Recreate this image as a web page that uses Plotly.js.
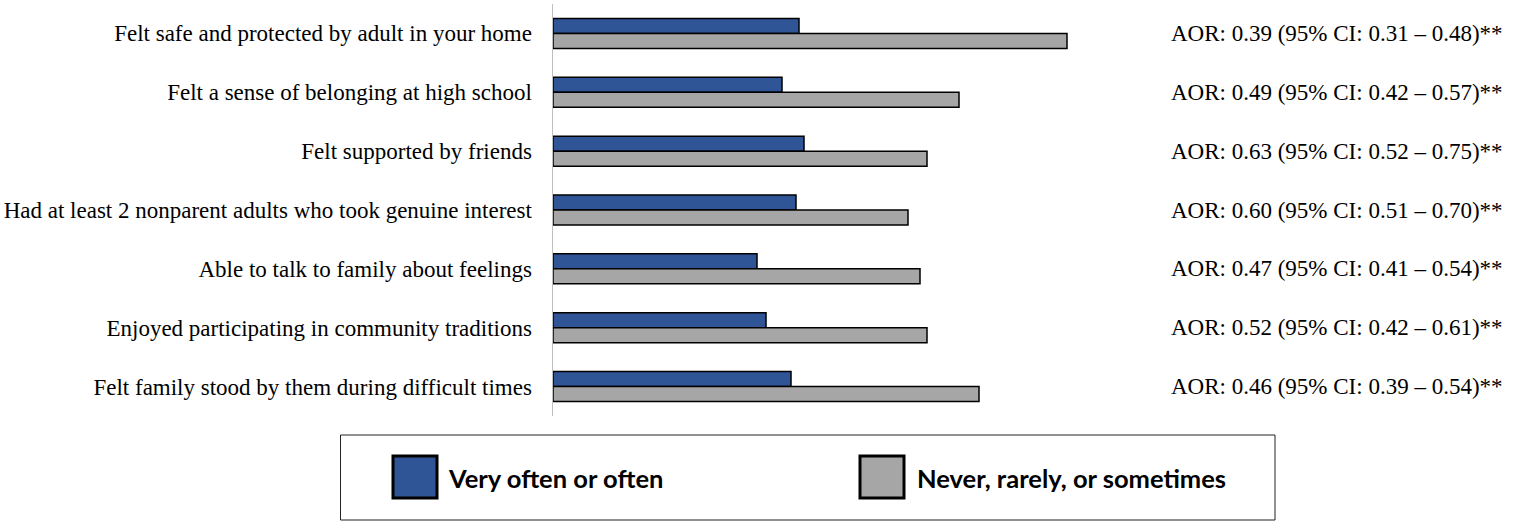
<!DOCTYPE html>
<html>
<head>
<meta charset="utf-8">
<script src="https://cdn.plot.ly/plotly-3.0.1.min.js"></script>
<style>html,body{margin:0;padding:0;background:#fff}#chart{width:1521px;height:521px}</style>
</head>
<body>
<div id="chart"></div>
<script>
// ---- data (bar lengths as estimated percentages) ----
const categories = [
  "Felt safe and protected by adult in your home",
  "Felt a sense of belonging at high school",
  "Felt supported by friends",
  "Had at least 2 nonparent adults who took genuine interest",
  "Able to talk to family about feelings",
  "Enjoyed participating in community traditions",
  "Felt family stood by them during difficult times"
];
const seriesNames = ["Very often or often", "Never, rarely, or sometimes"];
const veryOften = [24.6, 22.9, 25.1, 24.3, 20.4, 21.3, 23.8];
const neverRarely = [51.4, 40.6, 37.4, 35.5, 36.7, 37.4, 42.6];
const aorLabels = [
  "AOR: 0.39 (95% CI: 0.31 \u2013 0.48)**",
  "AOR: 0.49 (95% CI: 0.42 \u2013 0.57)**",
  "AOR: 0.63 (95% CI: 0.52 \u2013 0.75)**",
  "AOR: 0.60 (95% CI: 0.51 \u2013 0.70)**",
  "AOR: 0.47 (95% CI: 0.41 \u2013 0.54)**",
  "AOR: 0.52 (95% CI: 0.42 \u2013 0.61)**",
  "AOR: 0.46 (95% CI: 0.39 \u2013 0.54)**"
];

// ---- layout geometry ----
const W = 1521, H = 521;
const L = 553, T = 4, PW = 600, PH = 412;
const px = x => (x - L) / PW;
const py = y => (T + PH - y) / PH;

const serif = "'Liberation Serif', 'Times New Roman', serif";
const legendFont = "Lato, 'Open Sans', sans-serif";
const colors = ["#2F5597", "#A6A6A6"];

const traces = [
  {type: "bar", orientation: "h", name: seriesNames[0], y: categories, x: veryOften,
   marker: {color: colors[0], line: {color: "#000", width: 1.5}}, hoverinfo: "x"},
  {type: "bar", orientation: "h", name: seriesNames[1], y: categories, x: neverRarely,
   marker: {color: colors[1], line: {color: "#000", width: 1.5}}, hoverinfo: "x"}
];

const annotations = aorLabels.map((t, i) => ({
  xref: "paper", yref: "y", x: 1, y: categories[i], xshift: 16,
  xanchor: "left", yanchor: "middle", text: t, showarrow: false,
  font: {family: serif, size: 23, color: "#000"}
}));

// legend (drawn as shapes + text)
const legendItems = [
  {sx0: 393, sx1: 437, tx: 446},
  {sx0: 860, sx1: 904, tx: 915}
];
const shapes = [
  {type: "rect", xref: "paper", yref: "paper", x0: px(340.5), x1: px(1275), y0: py(435), y1: py(520),
   line: {color: "#222", width: 1}, fillcolor: "rgba(0,0,0,0)"}
];
legendItems.forEach((it, i) => {
  shapes.push({type: "rect", xref: "paper", yref: "paper", x0: px(it.sx0), x1: px(it.sx1),
    y0: py(456), y1: py(498), line: {color: "#000", width: 3}, fillcolor: colors[i]});
  annotations.push({xref: "paper", yref: "paper", x: px(it.tx), y: py(478),
    xanchor: "left", yanchor: "middle", text: "<b>" + seriesNames[i] + "</b>", showarrow: false,
    font: {family: legendFont, size: 25.5, color: "#000"}});
});

const layout = {
  width: W, height: H,
  margin: {l: L, r: W - L - PW, t: T, b: H - T - PH, pad: 0},
  paper_bgcolor: "#fff", plot_bgcolor: "#fff",
  showlegend: false,
  barmode: "group", bargap: 0.49, bargroupgap: 0,
  xaxis: {range: [0, 60], showgrid: false, zeroline: false, showticklabels: false,
          ticks: "", showline: false, fixedrange: true},
  yaxis: {autorange: "reversed", type: "category", showgrid: false, zeroline: false,
          showline: true, linecolor: "#BFBFBF", linewidth: 1.5, ticks: "",
          ticklabelstandoff: 15,
          tickfont: {family: serif, size: 23, color: "#000"}, fixedrange: true},
  annotations: annotations,
  shapes: shapes
};

Plotly.newPlot("chart", traces, layout, {displayModeBar: false, staticPlot: true});
</script>
</body>
</html>
